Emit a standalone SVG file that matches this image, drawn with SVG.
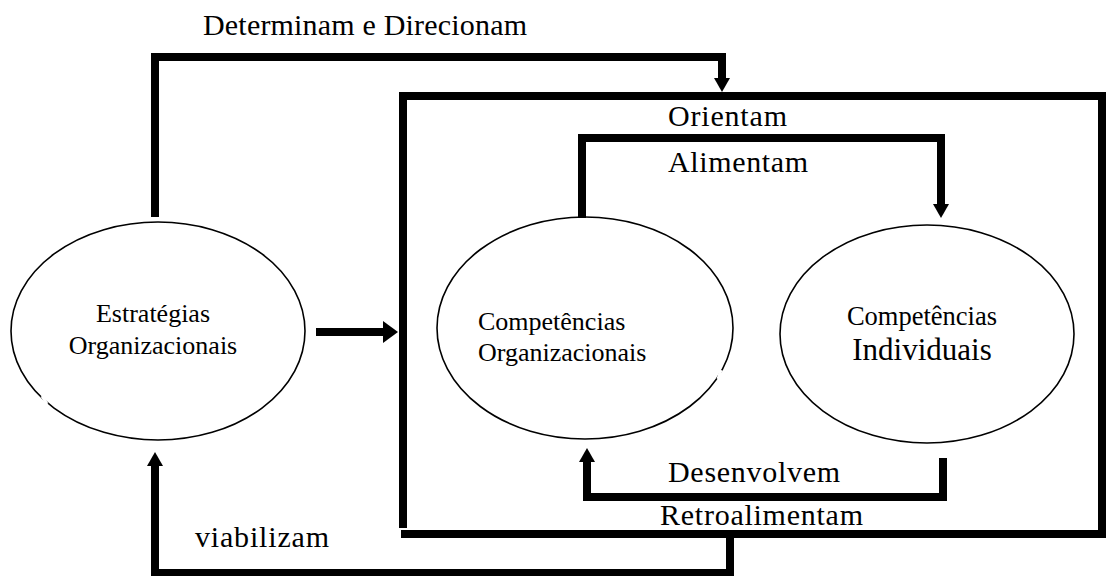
<svg xmlns="http://www.w3.org/2000/svg" width="1106" height="576" viewBox="0 0 1106 576">
<style>
.t{font-family:"Liberation Serif","Times New Roman",serif;fill:#000}
.lbl{font-size:30px}
.n{font-size:26px}
.c{fill:none;stroke:#000;stroke-width:8;stroke-linejoin:miter}
.e{fill:#fff;stroke:#000;stroke-width:1.6}
.gap{fill:none;stroke:#fff;stroke-width:3}
</style>
<defs>
<marker id="ah" viewBox="0 0 14 16" refX="2" refY="8" markerWidth="14" markerHeight="16" markerUnits="userSpaceOnUse" orient="auto">
<path d="M0,0 L14,8 L0,16 z" fill="#000"/>
</marker>
<marker id="ah2" viewBox="0 0 15 22" refX="1" refY="11" markerWidth="15" markerHeight="22" markerUnits="userSpaceOnUse" orient="auto">
<path d="M0,0 L15,11 L0,22 z" fill="#000"/>
</marker>
</defs>
<rect width="1106" height="576" fill="#fff"/>
<g id="nodes">
<g id="estrategias">
<ellipse class="e" cx="158" cy="331" rx="147" ry="109"/>
<path class="gap" d="M42,396 L47,404"/>
<text class="t n" x="153" y="322" text-anchor="middle">Estratégias</text>
<text class="t n" x="153" y="354" text-anchor="middle">Organizacionais</text>
</g>
<g id="comp-org">
<ellipse class="e" cx="585" cy="328" rx="148" ry="111"/>
<path class="gap" d="M721,370 L718,379"/>
<text class="t n" x="478" y="330">Competências</text>
<text class="t n" x="478" y="361">Organizacionais</text>
</g>
<g id="comp-ind">
<ellipse class="e" cx="927" cy="334" rx="147" ry="109"/>
<text class="t" style="font-size:26.5px" x="922" y="325" text-anchor="middle">Competências</text>
<text class="t" style="font-size:31px" x="922" y="360" text-anchor="middle">Individuais</text>
</g>
</g>
<g id="connectors">
<path class="c" d="M403,528 V96 H1102 V534 H401"/>
<path class="c" d="M155,217 V57 H722 V80" marker-end="url(#ah)"/>
<path class="c" d="M582,218 V138 H941 V206" marker-end="url(#ah)"/>
<path class="c" d="M943,458 V497 H587 V460" marker-end="url(#ah)"/>
<path class="c" d="M730,534 V573 H155 V464" marker-end="url(#ah)"/>
<path class="c" d="M316,332 H384" marker-end="url(#ah2)"/>
</g>
<g id="labels">
<text class="t lbl" x="203" y="35" textLength="324">Determinam e Direcionam</text>
<text class="t lbl" x="668" y="126" textLength="119">Orientam</text>
<text class="t lbl" x="668" y="172" textLength="140">Alimentam</text>
<text class="t lbl" x="668" y="482" textLength="172">Desenvolvem</text>
<text class="t lbl" x="660" y="525" textLength="203">Retroalimentam</text>
<text class="t lbl" x="195" y="547" textLength="134">viabilizam</text>
</g>
</svg>
